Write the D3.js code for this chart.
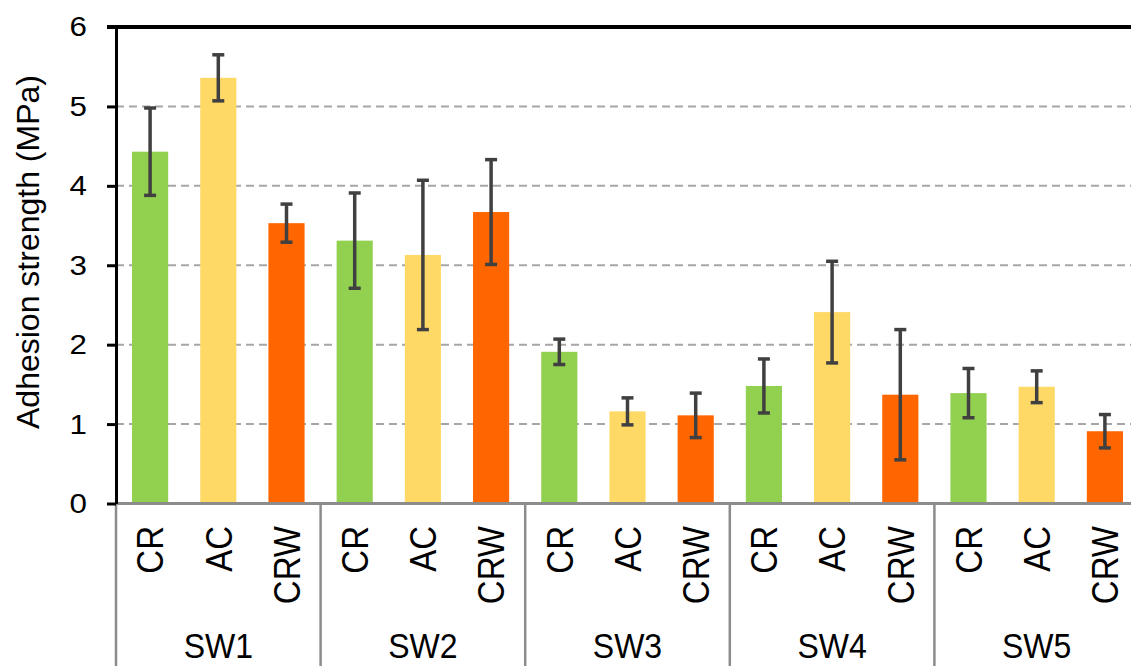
<!DOCTYPE html>
<html>
<head>
<meta charset="utf-8">
<script src="https://cdn.jsdelivr.net/npm/d3@7"></script>
<style>
  html, body { margin: 0; padding: 0; background: #fff; }
  svg { display: block; font-family: "Liberation Sans", Arial, sans-serif; }
</style>
</head>
<body>
<svg id="chart" width="1131" height="666"></svg>
<script>
// Sample groups and surface treatments
const groups = ["SW1", "SW2", "SW3", "SW4", "SW5"];
const treatments = ["CR", "AC", "CRW"];

// Mean adhesion strength (MPa) per treatment, one value per group
const crMean  = [4.43, 3.31, 1.91, 1.48, 1.39];
const acMean  = [5.36, 3.13, 1.16, 2.41, 1.47];
const crwMean = [3.53, 3.67, 1.11, 1.37, 0.91];

// Standard deviation (MPa) for the error bars
const crErr  = [0.55, 0.60, 0.16, 0.34, 0.31];
const acErr  = [0.29, 0.94, 0.17, 0.64, 0.20];
const crwErr = [0.24, 0.66, 0.28, 0.82, 0.21];

const yTicks = [0, 1, 2, 3, 4, 5, 6];
const yTitle = "Adhesion strength (MPa)";

const colors = { CR: "#92D050", AC: "#FFD966", CRW: "#FF6600" };

const means = { CR: crMean, AC: acMean, CRW: crwMean };
const errs  = { CR: crErr,  AC: acErr,  CRW: crwErr };

const rows = [];
groups.forEach((g, i) => {
  treatments.forEach(t => {
    rows.push({ group: g, treatment: t, value: means[t][i], err: errs[t][i] });
  });
});

const svg = d3.select("#chart");
const W = 1131, H = 666;
const plotLeft = 116, plotRight = 1139, plotTop = 27, plotBottom = 503.5;

const x0 = d3.scaleBand().domain(groups).range([plotLeft, plotRight]).padding(0);
const x1 = d3.scaleBand().domain(treatments).range([0, x0.bandwidth()])
  .paddingInner(0.47).paddingOuter(0.235);
const y = d3.scaleLinear().domain([0, 6]).range([plotBottom, plotTop]);

// Dashed horizontal gridlines
svg.append("g")
  .selectAll("line")
  .data(yTicks.filter(v => v > 0 && v < 6))
  .join("line")
  .attr("x1", plotLeft).attr("x2", W)
  .attr("y1", d => y(d)).attr("y2", d => y(d))
  .attr("stroke", "#A6A6A6")
  .attr("stroke-width", 2)
  .attr("stroke-dasharray", "8,5");

// Bars
svg.append("g")
  .selectAll("rect")
  .data(rows)
  .join("rect")
  .attr("x", d => x0(d.group) + x1(d.treatment))
  .attr("width", x1.bandwidth())
  .attr("y", d => y(d.value))
  .attr("height", d => y(0) - y(d.value))
  .attr("fill", d => colors[d.treatment]);

// Error bars
const eb = svg.append("g")
  .attr("stroke", "#404040")
  .attr("stroke-width", 3.5)
  .selectAll("g")
  .data(rows)
  .join("g")
  .attr("transform", d => `translate(${x0(d.group) + x1(d.treatment) + x1.bandwidth() / 2},0)`);
eb.append("line")
  .attr("x1", 0).attr("x2", 0)
  .attr("y1", d => y(d.value + d.err))
  .attr("y2", d => y(d.value - d.err));
eb.append("line")
  .attr("x1", -6).attr("x2", 6)
  .attr("y1", d => y(d.value + d.err)).attr("y2", d => y(d.value + d.err));
eb.append("line")
  .attr("x1", -6).attr("x2", 6)
  .attr("y1", d => y(d.value - d.err)).attr("y2", d => y(d.value - d.err));

// Category axis baseline and group separators
svg.append("line")
  .attr("x1", plotLeft).attr("x2", W)
  .attr("y1", y(0)).attr("y2", y(0))
  .attr("stroke", "#8C8C8C").attr("stroke-width", 3);

const bounds = groups.map(g => x0(g)).concat([x0(groups[groups.length - 1]) + x0.bandwidth()]);
svg.append("g")
  .selectAll("line")
  .data(bounds)
  .join("line")
  .attr("x1", d => d).attr("x2", d => d)
  .attr("y1", y(0)).attr("y2", H)
  .attr("stroke", "#8C8C8C").attr("stroke-width", 2.5);

// Top border of the plot
svg.append("line")
  .attr("x1", plotLeft - 9).attr("x2", W)
  .attr("y1", y(6)).attr("y2", y(6))
  .attr("stroke", "#000").attr("stroke-width", 4);

// Value axis
const labelStretch = 1.12;
const yAxis = svg.append("g")
  .attr("transform", `translate(${plotLeft},0)`)
  .call(d3.axisLeft(y).tickValues(yTicks).tickFormat(d3.format("d"))
    .tickSize(9).tickPadding(20).tickSizeOuter(0));
yAxis.select(".domain").attr("stroke", "#000").attr("stroke-width", 3);
yAxis.selectAll(".tick line").attr("stroke", "#000").attr("stroke-width", 3);
yAxis.selectAll(".tick text")
  .attr("fill", "#000")
  .attr("x", -29 / labelStretch)
  .attr("transform", `scale(${labelStretch},1)`)
  .style("font-size", "28px")
  .style("font-family", "'Liberation Sans', Arial, sans-serif");

// Y-axis title
svg.append("text")
  .attr("transform", `translate(39,252) rotate(-90)`)
  .attr("text-anchor", "middle")
  .style("font-size", "32px")
  .attr("fill", "#000")
  .text(yTitle);

// Treatment labels (rotated)
svg.append("g")
  .selectAll("text")
  .data(rows)
  .join("text")
  .attr("transform", d => `translate(${x0(d.group) + x1(d.treatment) + x1.bandwidth() / 2},526) rotate(-90) scale(1,${labelStretch})`)
  .attr("text-anchor", "end")
  .attr("dy", "0.36em")
  .style("font-size", "33px")
  .attr("fill", "#000")
  .text(d => d.treatment);

// Group labels
svg.append("g")
  .selectAll("text")
  .data(groups)
  .join("text")
  .attr("transform", d => `translate(${x0(d) + x0.bandwidth() / 2},658) scale(1,1.09)`)
  .attr("text-anchor", "middle")
  .style("font-size", "32px")
  .attr("fill", "#000")
  .text(d => d);
</script>
</body>
</html>
